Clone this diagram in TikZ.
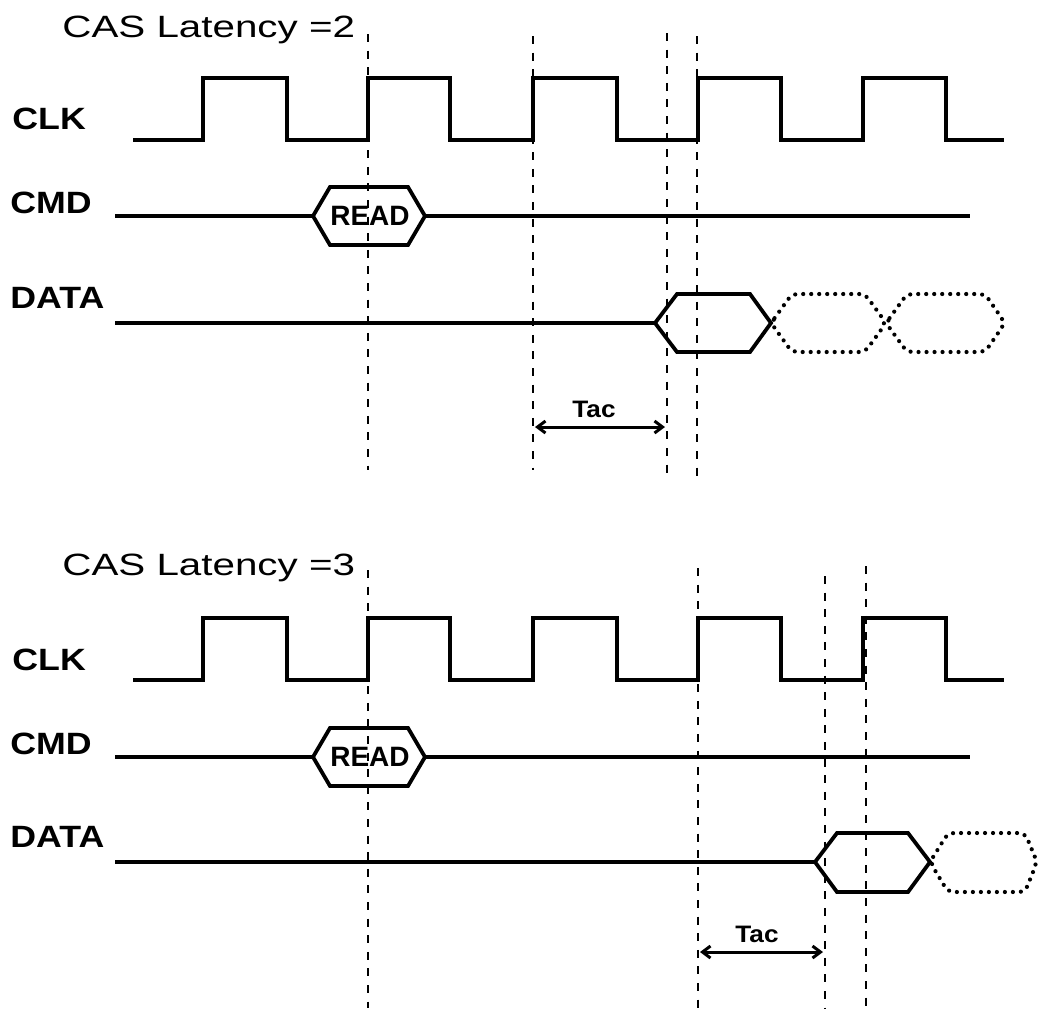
\documentclass[tikz,border=0pt]{standalone}
\usepackage{fontspec}
\setmainfont{Liberation Sans}
\usetikzlibrary{arrows.meta}
\begin{document}
\begin{tikzpicture}[x=0.5pt,y=-0.5pt,
  sig/.style={line width=1.9pt, line join=miter},
  guide/.style={line width=1.4pt, dash pattern=on 4pt off 4.3pt},
  dotsig/.style={line width=2.1pt, line cap=round, dash pattern=on 0pt off 4pt, rounded corners=3pt},
  lbl/.style={inner sep=0pt, anchor=base west, font=\fontsize{15.4}{18}\selectfont\bfseries},
  ttl/.style={inner sep=0pt, anchor=base west, font=\fontsize{15.4}{18}\selectfont},
  cmdtxt/.style={inner sep=0pt, anchor=base, font=\fontsize{14}{16}\selectfont\bfseries},
  tactxt/.style={inner sep=0pt, anchor=base, font=\fontsize{11.9}{14}\selectfont\bfseries},
  meas/.style={line width=1.5pt, {Straight Barb[length=4pt,width=6pt]}-{Straight Barb[length=4pt,width=6pt]}}]
\useasboundingbox (0,0) rectangle (1039,1008);

% ================= TOP PANEL (CAS latency 2) =================
\node[ttl] (t1) at (62,37) {\scalebox{1.31}[1]{CAS Latency =2}};
\node[lbl] (clk1) at (12,129) {\scalebox{1.16}[1]{CLK}};
\node[lbl] (cmd1) at (10,213) {\scalebox{1.16}[1]{CMD}};
\node[lbl] (dat1) at (10,308) {\scalebox{1.16}[1]{DATA}};

% guide lines
\draw[guide] (368,34) -- (368,470);
\draw[guide] (533,36) -- (533,470);
\draw[guide] (667,33) -- (667,480);
\draw[guide] (697,36) -- (697,480);

% clock
\draw[sig] (133,140) -- (203,140) -- (203,78) -- (287,78) -- (287,140) -- (368,140) -- (368,78)
  -- (450,78) -- (450,140) -- (533,140) -- (533,78) -- (617,78) -- (617,140) -- (698,140) -- (698,78)
  -- (781,78) -- (781,140) -- (863,140) -- (863,78) -- (946,78) -- (946,140) -- (1004,140);

% command
\draw[sig] (115,216) -- (313,216);
\draw[sig] (313,216) -- (330,187) -- (408,187) -- (425,216) -- (408,245) -- (330,245) -- cycle;
\draw[sig] (425,216) -- (970,216);
\node[cmdtxt] (rd1) at (370,225) {READ};

% data
\draw[sig] (115,323) -- (655,323);
\draw[sig] (655,323) -- (677,294) -- (750,294) -- (771,323) -- (750,352) -- (677,352) -- cycle;
\draw[dotsig] (771,323) -- (792,294) -- (865,294) -- (886,323) -- (865,352) -- (792,352) -- cycle;
\draw[dotsig] (886,323) -- (907,294) -- (985,294) -- (1005,323) -- (985,352) -- (907,352) -- cycle;

% Tac
\coordinate (a1) at (535,427);
\coordinate (b1) at (665,427);
\draw[meas] (a1) -- (b1);
\node[tactxt] (tac1) at (594,417) {\scalebox{1.1}[1]{Tac}};

% ================= BOTTOM PANEL (CAS latency 3) =================
\node[ttl] (t2) at (62,575) {\scalebox{1.31}[1]{CAS Latency =3}};
\node[lbl] (clk2) at (12,670) {\scalebox{1.16}[1]{CLK}};
\node[lbl] (cmd2) at (10,754) {\scalebox{1.16}[1]{CMD}};
\node[lbl] (dat2) at (10,847) {\scalebox{1.16}[1]{DATA}};

% guide lines
\draw[guide] (368,570) -- (368,1008);
\draw[guide] (698,568) -- (698,1008);
\draw[guide] (825,576) -- (825,1008);
\draw[guide] (866,566) -- (866,1008);

% clock
\draw[sig] (133,680) -- (203,680) -- (203,618) -- (287,618) -- (287,680) -- (368,680) -- (368,618)
  -- (450,618) -- (450,680) -- (533,680) -- (533,618) -- (617,618) -- (617,680) -- (698,680) -- (698,618)
  -- (781,618) -- (781,680) -- (863,680) -- (863,618) -- (946,618) -- (946,680) -- (1004,680);

% command
\draw[sig] (115,757) -- (313,757);
\draw[sig] (313,757) -- (330,728) -- (408,728) -- (425,757) -- (408,786) -- (330,786) -- cycle;
\draw[sig] (425,757) -- (970,757);
\node[cmdtxt] (rd2) at (370,766) {READ};

% data
\draw[sig] (115,862) -- (815,862);
\draw[sig] (815,862) -- (837,833) -- (908,833) -- (930,862) -- (908,892) -- (837,892) -- cycle;
\draw[dotsig] (930,862) -- (948,833) -- (1025,833) -- (1037,862) -- (1025,892) -- (948,892) -- cycle;

% Tac
\coordinate (a2) at (700,952);
\coordinate (b2) at (823,952);
\draw[meas] (a2) -- (b2);
\node[tactxt] (tac2) at (757,942) {\scalebox{1.1}[1]{Tac}};
\end{tikzpicture}
\end{document}
